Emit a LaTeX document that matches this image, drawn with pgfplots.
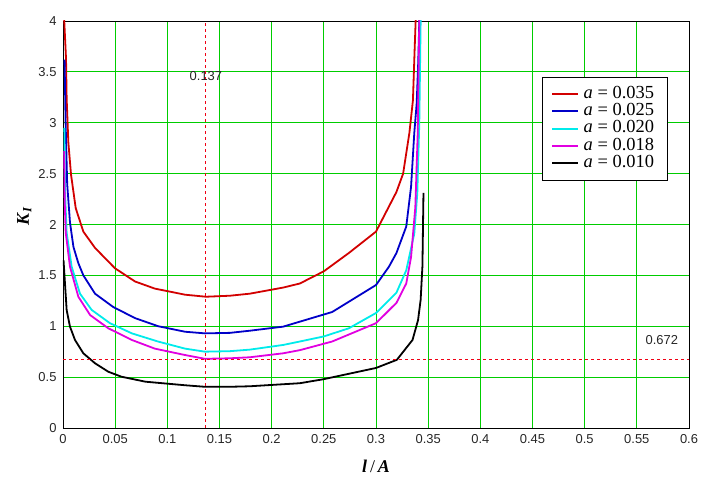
\documentclass[border=0pt]{standalone}
\usepackage{pgfplots}
\pgfplotsset{compat=1.18}
\usepackage{fontspec}
\setmainfont{Liberation Serif}
\newfontfamily\ticksf{Liberation Sans}
\definecolor{gridgreen}{RGB}{0,205,0}
\definecolor{cred}{RGB}{210,0,0}
\definecolor{cblue}{RGB}{0,0,200}
\definecolor{ccyan}{RGB}{0,235,235}
\definecolor{cmag}{RGB}{225,0,225}
\definecolor{dred}{RGB}{240,0,20}
\begin{document}
\begin{tikzpicture}
\begin{axis}[
  scale only axis,
  width=626bp, height=407bp,
  xmin=0, xmax=0.6, ymin=0, ymax=4,
  xtick={0,0.05,0.1,0.15,0.2,0.25,0.3,0.35,0.4,0.45,0.5,0.55,0.6},
  xticklabels={0,0.05,0.1,0.15,0.2,0.25,0.3,0.35,0.4,0.45,0.5,0.55,0.6},
  ytick={0,0.5,1,1.5,2,2.5,3,3.5,4},
  yticklabels={0,0.5,1,1.5,2,2.5,3,3.5,4},
  major tick length=0pt,
  tick label style={font=\fontsize{13}{13}\selectfont\ticksf, text=black!85},
  xticklabel style={yshift=-3bp},
  yticklabel style={xshift=-3bp},
  grid=major,
  major grid style={color=gridgreen, line width=0.8bp},
  axis line style={black, line width=0.8bp},
  clip=true,
  xlabel={\textbf{\textit{l}}\,/\,\textbf{\textit{A}}},
  xlabel style={at={(axis description cs:0.5,-0.095)}, anchor=center, font=\fontsize{18}{18}\selectfont},
  ylabel={\textbf{\textit{K}}\textsubscript{\textbf{\textit{I}}}},
  ylabel style={at={(axis description cs:-0.062,0.521)}, anchor=center, font=\fontsize{18}{18}\selectfont},
  legend style={at={(axis description cs:0.966,0.862)}, anchor=north east,
    draw=black, fill=white, font=\fontsize{18.5}{17}\selectfont,
    nodes={text height=12bp, text depth=3.5bp, inner ysep=0.9bp, inner xsep=4.5bp},
    row sep=0bp, inner xsep=9bp, inner ysep=8bp},
  legend cell align=left,
  legend image code/.code={\draw[#1, line width=1.9bp] (0bp,0bp) -- (26bp,0bp);},
  every axis plot/.append style={line width=1.8bp},
]
\addplot[cred] coordinates {(0.0008,4.3) (0.0012,4.0) (0.0029,3.63) (0.0035,3.24) (0.0051,2.81) (0.0077,2.49) (0.0122,2.16) (0.0195,1.93) (0.0307,1.77) (0.045,1.62) (0.0498,1.57) (0.069,1.44) (0.088,1.37) (0.117,1.31) (0.137,1.29) (0.16,1.30) (0.179,1.32) (0.211,1.38) (0.227,1.42) (0.25,1.54) (0.274,1.72) (0.3,1.93) (0.3196,2.32) (0.326,2.5) (0.332,2.9) (0.3354,3.22) (0.337,3.71) (0.338,4.0) (0.3385,4.3)};
\addlegendentry{\textit{a} = 0.035}
\addplot[cblue] coordinates {(0.0015,3.62) (0.0025,3.0) (0.004,2.4) (0.0067,2.02) (0.01,1.78) (0.0147,1.62) (0.0195,1.50) (0.0307,1.32) (0.048,1.19) (0.069,1.08) (0.0913,1.0) (0.117,0.946) (0.136,0.93) (0.16,0.935) (0.179,0.956) (0.211,0.996) (0.227,1.045) (0.258,1.14) (0.3,1.405) (0.3124,1.585) (0.3196,1.72) (0.329,1.98) (0.3336,2.37) (0.3367,2.9) (0.339,3.19) (0.3405,3.6) (0.3415,4.0) (0.342,4.3)};
\addlegendentry{\textit{a} = 0.025}
\addplot[ccyan] coordinates {(0.0013,2.95) (0.002,2.3) (0.0035,1.92) (0.0083,1.585) (0.0163,1.32) (0.0275,1.16) (0.045,1.03) (0.066,0.93) (0.091,0.85) (0.117,0.78) (0.136,0.75) (0.16,0.755) (0.179,0.77) (0.211,0.816) (0.227,0.85) (0.25,0.90) (0.274,0.98) (0.3,1.13) (0.3196,1.33) (0.329,1.55) (0.3367,1.91) (0.3396,2.31) (0.3415,3.0) (0.3428,4.0) (0.343,4.3)};
\addlegendentry{\textit{a} = 0.020}
\addplot[cmag] coordinates {(0.0012,2.72) (0.0016,2.24) (0.0026,1.92) (0.0067,1.585) (0.0147,1.29) (0.026,1.11) (0.0434,0.98) (0.066,0.865) (0.088,0.78) (0.117,0.717) (0.136,0.68) (0.16,0.685) (0.179,0.695) (0.211,0.734) (0.227,0.765) (0.258,0.85) (0.3,1.03) (0.3196,1.23) (0.329,1.42) (0.3336,1.68) (0.3377,2.17) (0.34,2.9) (0.3415,4.0) (0.342,4.3)};
\addlegendentry{\textit{a} = 0.018}
\addplot[black] coordinates {(0.0005,1.65) (0.0019,1.42) (0.0035,1.16) (0.0067,0.996) (0.0115,0.865) (0.0195,0.734) (0.0307,0.636) (0.0434,0.553) (0.056,0.504) (0.079,0.455) (0.117,0.42) (0.136,0.405) (0.16,0.405) (0.179,0.41) (0.211,0.43) (0.227,0.44) (0.25,0.48) (0.3,0.59) (0.32,0.67) (0.335,0.865) (0.3403,1.06) (0.3428,1.26) (0.3445,1.59) (0.3455,2.31)};
\addlegendentry{\textit{a} = 0.010}
\addplot[dred, line width=0.9bp, dash pattern=on 3bp off 3bp, forget plot] coordinates {(0.137,0) (0.137,4)};
\addplot[dred, line width=0.9bp, dash pattern=on 3bp off 3bp, forget plot] coordinates {(0,0.672) (0.6,0.672)};
\node[font=\fontsize{13}{13}\selectfont\ticksf, text=black!85] at (axis cs:0.137,3.46) {0.137};
\node[font=\fontsize{13}{13}\selectfont\ticksf, text=black!85] at (axis cs:0.574,0.865) {0.672};
\end{axis}
\pgfresetboundingbox
\path (current axis.south west) ++(-63bp,-50bp) rectangle ([xshift=34bp,yshift=21bp]current axis.north east);
\end{tikzpicture}
\end{document}
